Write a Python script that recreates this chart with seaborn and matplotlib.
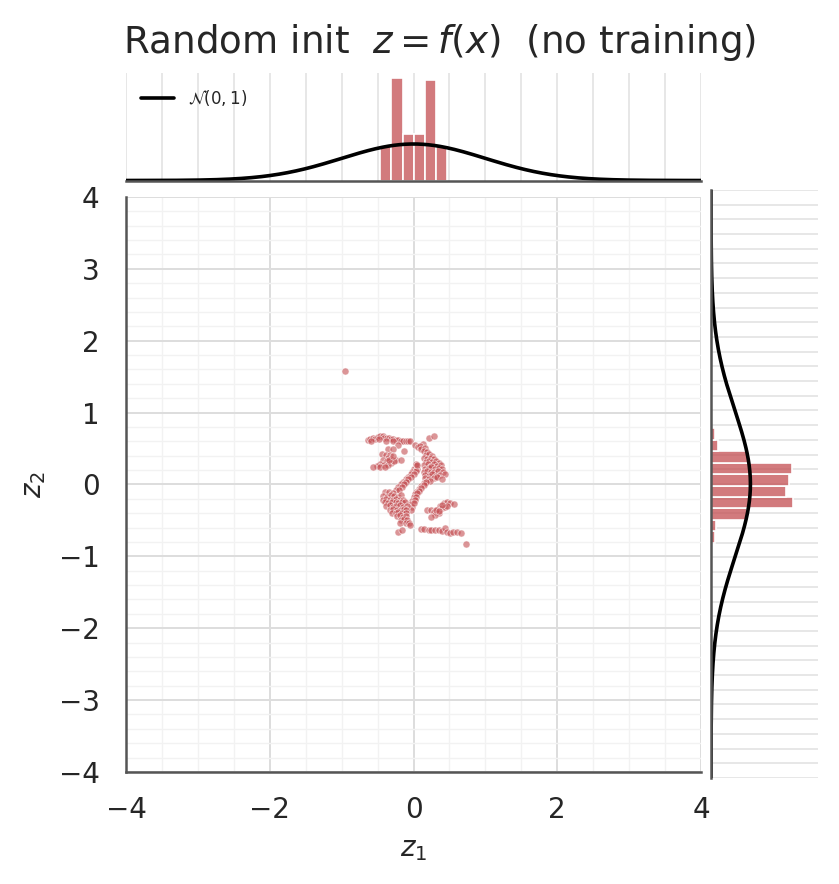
import numpy as np
import pandas as pd
import seaborn as sns
import matplotlib
matplotlib.use("Agg")
import matplotlib.pyplot as plt
from matplotlib.ticker import MultipleLocator, AutoMinorLocator

# latent points z = f(x)
z1 = [
    # upper arm
    -0.64, -0.61, -0.57, -0.54, -0.50, -0.47, -0.43, -0.41, -0.37, -0.34, -0.31, -0.28, -0.25,
    -0.22, -0.18, -0.15, -0.11, -0.08, -0.05, -0.59, -0.48, -0.38, -0.29, -0.21, -0.13,
    0.22, 0.29,
    # left middle clump
    -0.35, -0.29, -0.44, -0.38, -0.33, -0.36, -0.31, -0.25, -0.18, -0.42, -0.37, -0.32, -0.27,
    -0.47, -0.41, -0.35, -0.51, -0.56, -0.46, -0.40, -0.34, -0.29,
    # crescent
    0.02, 0.06, 0.13, 0.09, 0.11, 0.16, 0.15, 0.19, 0.17, 0.22, 0.26,
    0.15, 0.19, 0.24, 0.29, 0.17, 0.22, 0.26, 0.31, 0.35,
    0.15, 0.20, 0.24, 0.28, 0.33, 0.38, 0.16, 0.21, 0.25, 0.30, 0.35, 0.39,
    0.15, 0.19, 0.24, 0.28, 0.34, 0.41, 0.16, 0.21, 0.26, 0.31, 0.37, 0.44,
    0.16, 0.22, 0.28, 0.33, 0.40, 0.18, 0.23,
    # inner band
    0.15, 0.11, 0.07, 0.04, 0.02, 0.00, -0.02, -0.03, -0.02, -0.04,
    0.18, 0.14, 0.10, 0.08, 0.05, 0.03, 0.02, 0.01,
    # left arm
    0.03, 0.01, -0.02, -0.04, -0.08, -0.11, -0.14, -0.17, -0.21, -0.24,
    0.05, 0.03, 0.00, -0.03, -0.07, -0.10, -0.13, -0.16, -0.20, 0.03, 0.05,
    # lower-left blob
    -0.40, -0.34, -0.28,
    -0.42, -0.37, -0.32, -0.27, -0.22, -0.17,
    -0.43, -0.38, -0.33, -0.28, -0.24, -0.19, -0.14,
    -0.40, -0.35, -0.30, -0.25, -0.21, -0.16, -0.12,
    -0.38, -0.33, -0.29, -0.24, -0.19, -0.14, -0.09,
    -0.33, -0.28, -0.23, -0.18, -0.13, -0.10,
    -0.30, -0.25, -0.21, -0.16, -0.11,
    -0.23, -0.19, -0.14, -0.10,
    -0.18, -0.13, -0.09,
    -0.19, -0.10, -0.06,
    -0.21, -0.16, -0.05,
    # lower-right clump
    0.19, 0.24, 0.29, 0.33, 0.37, 0.42, 0.46, 0.51, 0.56, 0.39, 0.44, 0.35, 0.30, 0.25,
    0.31, 0.47, 0.40, 0.36,
    # bottom band
    0.10, 0.15, 0.21, 0.25, 0.30, 0.35, 0.39, 0.44, 0.46, 0.51, 0.55, 0.60, 0.66, 0.73,
    # stray
    -0.96,
]
z2 = [
    0.62, 0.63, 0.65, 0.63, 0.66, 0.67, 0.67, 0.64, 0.64, 0.65, 0.63, 0.63, 0.62,
    0.62, 0.61, 0.61, 0.60, 0.60, 0.60, 0.61, 0.63, 0.61, 0.61, 0.55, 0.47,
    0.65, 0.67,
    0.49, 0.49, 0.42, 0.41, 0.41, 0.37, 0.36, 0.34, 0.34, 0.34, 0.32, 0.30, 0.32,
    0.29, 0.27, 0.27, 0.26, 0.25, 0.25, 0.25, 0.34, 0.39,
    0.55, 0.52, 0.57, 0.53, 0.50, 0.51, 0.46, 0.45, 0.41, 0.42, 0.40,
    0.37, 0.35, 0.37, 0.36, 0.31, 0.33, 0.31, 0.32, 0.30,
    0.27, 0.28, 0.26, 0.28, 0.26, 0.27, 0.22, 0.23, 0.24, 0.22, 0.23, 0.22,
    0.18, 0.19, 0.17, 0.18, 0.19, 0.17, 0.13, 0.12, 0.14, 0.12, 0.13, 0.14,
    0.09, 0.08, 0.09, 0.10, 0.08, 0.04, 0.05,
    0.02, -0.02, -0.06, -0.10, -0.13, -0.18, -0.23, -0.27, -0.32, -0.36,
    0.03, -0.01, -0.05, -0.09, -0.12, -0.17, -0.21, -0.26,
    0.26, 0.22, 0.18, 0.15, 0.11, 0.08, 0.04, 0.01, -0.03, -0.07,
    0.22, 0.19, 0.15, 0.11, 0.07, 0.03, 0.00, -0.04, -0.08, 0.29, 0.27,
    -0.11, -0.10, -0.12,
    -0.16, -0.17, -0.15, -0.16, -0.17, -0.15,
    -0.21, -0.20, -0.22, -0.21, -0.20, -0.22, -0.21,
    -0.25, -0.26, -0.24, -0.25, -0.26, -0.24, -0.25,
    -0.30, -0.29, -0.31, -0.30, -0.29, -0.31, -0.30,
    -0.35, -0.34, -0.36, -0.35, -0.34, -0.36,
    -0.39, -0.40, -0.38, -0.39, -0.40,
    -0.44, -0.43, -0.45, -0.44,
    -0.49, -0.48, -0.50,
    -0.53, -0.54, -0.53,
    -0.66, -0.64, -0.56,
    -0.36, -0.36, -0.38, -0.35, -0.30, -0.26, -0.25, -0.26, -0.27, -0.33, -0.31, -0.40, -0.43, -0.45,
    -0.36, -0.30, -0.28, -0.37,
    -0.62, -0.62, -0.63, -0.64, -0.64, -0.64, -0.65, -0.61, -0.66, -0.67, -0.66, -0.66, -0.68, -0.83,
    1.58,
]

# marginal histograms (density per bin)
top_edges = [-0.466, -0.310, -0.153, 0.004, 0.160, 0.317, 0.473]
top_density = [0.377, 1.124, 0.511, 0.511, 1.095, 0.377]
right_edges = [-0.799, -0.643, -0.488, -0.332, -0.176, -0.021, 0.135, 0.290, 0.446, 0.602, 0.758]
right_density = [0.041, 0.051, 0.365, 0.832, 0.761, 0.792, 0.822, 0.386, 0.071, 0.041]

RED = "#C44E52"
SPINE = "#555555"

sns.set_style("whitegrid")

fig = plt.figure(figsize=(839 / 200, 884 / 200), dpi=200)
ax = fig.add_axes([0.15018, 0.12670, 0.68534, 0.65045])
ax_top = fig.add_axes([0.15018, 0.79581, 0.68534, 0.12217], sharex=ax)
ax_right = fig.add_axes([0.84744, 0.11991, 0.12753, 0.66516], sharey=ax)

df = pd.DataFrame({"z1": z1, "z2": z2})
sns.scatterplot(data=df, x="z1", y="z2", ax=ax, s=6.5, color=RED, alpha=0.6,
                edgecolor="white", linewidth=0.3, zorder=3)

ax.set_xlim(-4, 4)
ax.set_ylim(-4, 4)
ax.xaxis.set_major_locator(MultipleLocator(2))
ax.yaxis.set_major_locator(MultipleLocator(1))
ax.xaxis.set_minor_locator(AutoMinorLocator(4))
ax.yaxis.set_minor_locator(AutoMinorLocator(5))
ax.grid(which="major", color="#dddddd", lw=0.7)
ax.grid(which="minor", color="#f2f2f2", lw=0.5)
ax.set_axisbelow(True)
for s in ["top", "right"]:
    ax.spines[s].set_visible(False)
for s in ["left", "bottom"]:
    ax.spines[s].set_color(SPINE)
    ax.spines[s].set_linewidth(0.9)
ax.tick_params(which="both", length=0)
ax.tick_params(axis="x", pad=8.5, labelsize=10)
ax.tick_params(axis="y", pad=9.5, labelsize=10)
ax.set_xlabel("$z_1$", fontsize=10)
ax.set_ylabel("$z_2$", fontsize=10)

# standard normal reference
zz = np.linspace(-4, 4, 400)
pdf = np.exp(-zz ** 2 / 2) / np.sqrt(2 * np.pi)

top_centers = (np.array(top_edges[:-1]) + np.array(top_edges[1:])) / 2
sns.histplot(x=top_centers, weights=top_density, bins=top_edges, ax=ax_top,
             color=RED, alpha=0.75, edgecolor="white", linewidth=0.6)
sns.lineplot(x=zz, y=pdf, ax=ax_top, color="black", lw=1.3, label=r"$\mathcal{N}(0,1)$")
ax_top.set_ylim(0, 1.18)
ax_top.legend(loc="upper left", frameon=False, fontsize=6)

right_centers = (np.array(right_edges[:-1]) + np.array(right_edges[1:])) / 2
sns.histplot(y=right_centers, weights=right_density, bins=right_edges, ax=ax_right,
             color=RED, alpha=0.75, edgecolor="white", linewidth=0.6)
sns.lineplot(x=pdf, y=zz, ax=ax_right, color="black", lw=1.3, orient="y", sort=False)
ax_right.set_xlim(0, 1.083)

ax_top.xaxis.grid(True, which="both", color="#e3e3e3", lw=0.6)
ax_top.yaxis.grid(False)
ax_right.yaxis.grid(True, which="both", color="#e3e3e3", lw=0.6)
ax_right.xaxis.grid(False)
for a, keep in [(ax_top, "bottom"), (ax_right, "left")]:
    a.set_axisbelow(True)
    for s in ["top", "right", "left", "bottom"]:
        a.spines[s].set_visible(s == keep)
    a.spines[keep].set_color(SPINE)
    a.spines[keep].set_linewidth(0.9)
    a.tick_params(which="both", length=0, labelbottom=False, labelleft=False)
    a.set_xlabel("")
    a.set_ylabel("")

fig.text(0.524, 0.9404, "Random init  $z=f(x)$  (no training)", ha="center",
         va="baseline", fontsize=13.4, color="#262626")

fig.savefig("out.png", dpi=200)
